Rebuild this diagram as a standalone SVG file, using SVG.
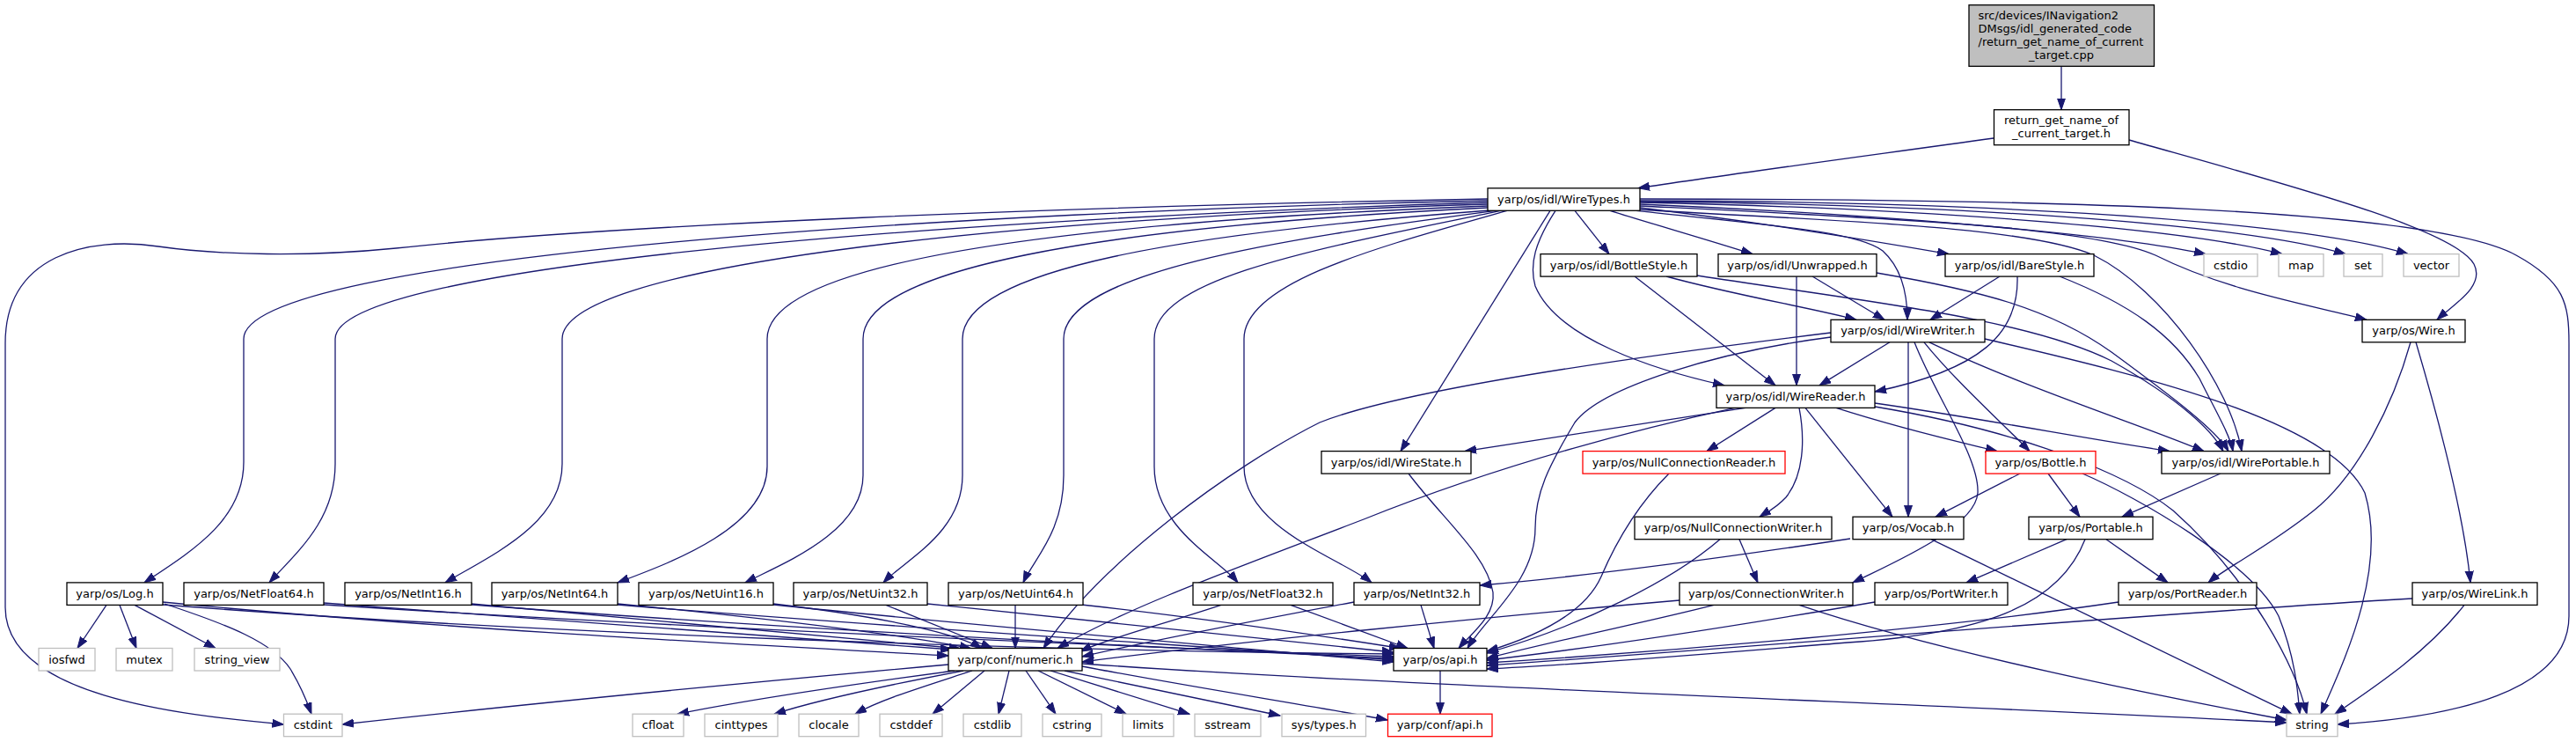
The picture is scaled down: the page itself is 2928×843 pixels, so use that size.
<svg xmlns="http://www.w3.org/2000/svg" width="2928" height="843" viewBox="0 0 2928 843">
<defs>
<marker id="a" markerWidth="14" markerHeight="11" refX="13" refY="5" orient="auto" markerUnits="userSpaceOnUse"><path d="M0,0.5 L13,5 L0,9.5 z" fill="#191970" stroke="#191970" stroke-width="1"/></marker>
<style>
.n rect{fill:#fff;stroke:#000;stroke-width:1.3}
.g rect{stroke:#bfbfbf}
.r rect{stroke:#f00}
.root rect{fill:#bfbfbf}
text{font-family:"DejaVu Sans",sans-serif;font-size:13px;text-anchor:middle;fill:#000}
text.s{text-anchor:start}
#edges path{fill:none;stroke:#191970;stroke-width:1.3;marker-end:url(#a)}
</style>
</defs>
<rect width="2928" height="843" fill="#fff"/>
<g id="edges">
<path d="M2343,75.3 L2343,124.7"/>
<path d="M2266,157 C2100,180 1950,200 1862,213.8"/>
<path d="M2420,159 C2600,210 2790,260 2812,300 C2825,325 2790,345 2770,363.3"/>
<path d="M1691,226 C1200,235 700,255 450,282 C350,292 250,290 180,280 C100,268 6,290 6,390 L6,690 C6,790 200,812 322.5,823"/>
<path d="M1691,228 C1100,240 277,290 277,385 L277,525 C277,590 220,625 164,661.9"/>
<path d="M1691,230 C1100,248 381,300 381,385 L381,527 C381,590 340,625 306,661.9"/>
<path d="M1691,232 C1100,250 639,305 639,385 L639,527 C639,595 560,630 506,661.9"/>
<path d="M1691,234 C1150,255 872,305 872,385 L872,530 C872,600 760,640 702,661.9"/>
<path d="M1691,236 C1250,258 981,305 981,385 L981,540 C981,605 890,640 847,661.9"/>
<path d="M1693,239 C1350,265 1094,305 1094,385 L1094,540 C1094,605 1030,635 1004,661.9"/>
<path d="M1700,239.3 C1450,272 1209,310 1209,385 L1209,540 C1209,605 1175,635 1163,661.9"/>
<path d="M1706,239.3 C1500,282 1312,315 1312,385 L1312,530 C1312,600 1385,635 1407,661.9"/>
<path d="M1713,239.3 C1570,280 1414,320 1414,385 L1414,530 C1414,600 1525,635 1559,661.9"/>
<path d="M1762,239.3 L1592,512.6"/>
<path d="M1768,239.3 C1745,275 1738,300 1745,325 C1770,385 1880,420 1960,437.9"/>
<path d="M1790,239.3 L1829,288.6"/>
<path d="M1830,239.3 C1880,255 1940,272 1992,288.6"/>
<path d="M1864,236 C1980,250 2120,272 2215,288.6"/>
<path d="M1860,239.3 C2000,255 2110,262 2140,285 C2162,305 2168,335 2168,363.3"/>
<path d="M1864,238 C2050,250 2300,255 2380,290 C2460,330 2535,440 2548,512.6"/>
<path d="M1864,232 C2100,242 2380,262 2507,288.6"/>
<path d="M1864,230 C2150,236 2470,256 2594,288.6"/>
<path d="M1864,229 C2200,232 2540,252 2666,288.6"/>
<path d="M1864,228 C2250,229 2610,250 2737,288.6"/>
<path d="M1864,234 C2150,248 2380,258 2450,290 C2530,330 2620,345 2690,363.3"/>
<path d="M1864,226 C2300,226 2760,235 2860,290 C2915,320 2920,345 2920,390 L2920,700 C2920,785 2790,815 2657,823"/>
<path d="M1858,314 L2018,437.9"/>
<path d="M1894,314 C1970,335 2060,350 2110,363.3"/>
<path d="M1929,313 C2100,340 2300,360 2400,410 C2480,455 2515,490 2527,512.6"/>
<path d="M2042,314 L2042,437.9"/>
<path d="M2060,314 L2142,363.3"/>
<path d="M2133,310 C2250,330 2330,350 2400,400 C2475,455 2520,490 2533,512.6"/>
<path d="M2273,314 L2194,363.3"/>
<path d="M2293,314 C2295,380 2250,420 2131,445"/>
<path d="M2341,314 C2420,345 2470,380 2500,430 C2520,470 2535,495 2538,512.6"/>
<path d="M2148,388.8 L2068,437.9"/>
<path d="M2169,388.8 L2169,587.2"/>
<path d="M2187,388.8 C2220,430 2275,480 2307,512.6"/>
<path d="M2193,388.8 C2300,440 2440,485 2505,512.6"/>
<path d="M2176,388.8 C2200,450 2250,520 2248,560 C2245,600 2150,640 2106,661.9"/>
<path d="M2081,378 C1900,400 1600,440 1500,480 C1400,530 1250,640 1186,736.5"/>
<path d="M2081,383 C1950,400 1820,440 1790,480 C1760,530 1745,560 1745,600 C1745,660 1690,700 1668,736.5"/>
<path d="M2256,385 C2450,430 2650,480 2688,560 C2715,650 2660,760 2638,811.2"/>
<path d="M1984,463.4 L1665,512.6"/>
<path d="M2018,463.4 L1940,512.6"/>
<path d="M2045,463.4 C2052,500 2050,540 2030,565 C2018,578 2008,582 2000,587.2"/>
<path d="M2052,463.4 L2151,587.2"/>
<path d="M2087,463.4 C2170,490 2240,505 2270,512.6"/>
<path d="M2131,458 C2250,475 2380,500 2466,512.6"/>
<path d="M1972,463.4 C1850,490 1700,530 1550,590 C1420,640 1280,690 1202,736.5"/>
<path d="M2131,462 C2300,490 2420,540 2470,580 C2560,660 2610,760 2622,811.2"/>
<path d="M1601,538 C1640,590 1690,630 1697,673 C1700,700 1672,720 1658,736.5"/>
<path d="M1897,538 C1860,575 1835,620 1820,655 C1800,700 1740,725 1690,740"/>
<path d="M1977,612.7 L1998,661.9"/>
<path d="M1955,612.7 C1900,660 1800,710 1690,742"/>
<path d="M2103,612 C1950,635 1800,655 1682,665"/>
<path d="M2195,612.7 L2605,811.2"/>
<path d="M2296,538 L2200,587.2"/>
<path d="M2328,538 L2364,587.2"/>
<path d="M2367,538 C2430,565 2560,640 2590,700 C2610,750 2612,790 2614,811.2"/>
<path d="M2524,538 L2412,587.2"/>
<path d="M2349,612.7 L2235,661.9"/>
<path d="M2394,612.7 L2464,661.9"/>
<path d="M2370,612.7 C2340,690 2250,720 2100,730 C1950,742 1800,755 1690,760"/>
<path d="M2740,388.8 C2720,460 2680,540 2630,580 C2580,620 2530,645 2510,661.9"/>
<path d="M2746,388.8 C2770,470 2800,580 2808,661.9"/>
<path d="M1909,682 C1700,700 1400,730 1230,752"/>
<path d="M1948,687.4 C1880,705 1780,725 1690,748"/>
<path d="M2045,687.4 C2200,740 2450,790 2599,818"/>
<path d="M2131,684 C1980,710 1820,735 1690,750"/>
<path d="M2408,684 C2200,715 1900,740 1690,753"/>
<path d="M2742,680 C2400,700 2000,735 1690,756"/>
<path d="M2801,687.4 C2760,740 2700,780 2654,811.2"/>
<path d="M121,687.4 L88,736.5"/>
<path d="M136,687.4 L155,736.5"/>
<path d="M153,687.4 L245,736.5"/>
<path d="M187,686 C260,710 310,730 330,760 C345,785 350,800 354,811.2"/>
<path d="M185,684 C500,715 900,735 1078,745"/>
<path d="M185,687 C600,720 1200,740 1584,743"/>
<path d="M368,685 C700,710 950,728 1082,738"/>
<path d="M368,687 C800,715 1300,735 1584,746"/>
<path d="M536,686 C800,710 1000,728 1092,737"/>
<path d="M536,687 C900,715 1300,735 1584,748"/>
<path d="M702,686 C900,705 1050,725 1104,737"/>
<path d="M702,687 C1000,712 1350,733 1584,750"/>
<path d="M879,686 C1000,700 1090,720 1116,737"/>
<path d="M879,687 C1100,710 1400,735 1584,752"/>
<path d="M1007,687.4 L1128,736.5"/>
<path d="M1054,686 C1250,705 1450,728 1584,741"/>
<path d="M1154,687.4 L1154,736.5"/>
<path d="M1229,687 C1350,700 1500,722 1592,736.5"/>
<path d="M1388,687.4 C1320,710 1260,725 1228,740"/>
<path d="M1467,687.4 L1600,736.5"/>
<path d="M1539,684 C1400,710 1300,730 1230,746"/>
<path d="M1615,687.4 L1630,736.5"/>
<path d="M1078,755 C800,780 550,805 389,823"/>
<path d="M1085,762 C950,780 850,795 770,811.2"/>
<path d="M1095,762 C1000,780 930,795 880,811.2"/>
<path d="M1105,762 C1050,780 1000,795 972,811.2"/>
<path d="M1119,762 L1060,811.2"/>
<path d="M1147,762 L1135,811.2"/>
<path d="M1166,762 L1200,811.2"/>
<path d="M1180,762 L1280,811.2"/>
<path d="M1194,762 L1352,811.2"/>
<path d="M1210,762 L1455,813"/>
<path d="M1230,757 C1350,780 1480,800 1577,818"/>
<path d="M1230,754 C1600,780 2200,800 2599,821"/>
<path d="M1637,762 L1637,811.2"/>
</g>
<g id="n_root" class="n root"><rect x="2238" y="5.7" width="210.5" height="69.6"/><text class="s" x="2248.5" y="22.3">src/devices/INavigation2</text><text class="s" x="2248.5" y="37.1">DMsgs/idl_generated_code</text><text class="s" x="2248.5" y="51.9">/return_get_name_of_current</text><text x="2343" y="66.7">_target.cpp</text></g>
<g id="n_return" class="n"><rect x="2266.5" y="124.7" width="153.5" height="40"/><text x="2343" y="141.3">return_get_name_of</text><text x="2343" y="156.1">_current_target.h</text></g>
<g id="n_WireTypes" class="n"><rect x="1691" y="213.8" width="173" height="25.5"/><text x="1777.5" y="230.8">yarp/os/idl/WireTypes.h</text></g>
<g id="n_BottleStyle" class="n"><rect x="1751" y="288.6" width="178" height="25.5"/><text x="1840" y="305.6">yarp/os/idl/BottleStyle.h</text></g>
<g id="n_Unwrapped" class="n"><rect x="1953" y="288.6" width="180" height="25.5"/><text x="2043" y="305.6">yarp/os/idl/Unwrapped.h</text></g>
<g id="n_BareStyle" class="n"><rect x="2211" y="288.6" width="169" height="25.5"/><text x="2295.5" y="305.6">yarp/os/idl/BareStyle.h</text></g>
<g id="n_cstdio" class="n g"><rect x="2505" y="288.6" width="61" height="25.5"/><text x="2535.5" y="305.6">cstdio</text></g>
<g id="n_map" class="n g"><rect x="2590" y="288.6" width="51" height="25.5"/><text x="2615.5" y="305.6">map</text></g>
<g id="n_set" class="n g"><rect x="2664" y="288.6" width="44" height="25.5"/><text x="2686" y="305.6">set</text></g>
<g id="n_vector" class="n g"><rect x="2732" y="288.6" width="63" height="25.5"/><text x="2763.5" y="305.6">vector</text></g>
<g id="n_WireWriter" class="n"><rect x="2081" y="363.3" width="175" height="25.5"/><text x="2168.5" y="380.3">yarp/os/idl/WireWriter.h</text></g>
<g id="n_Wire" class="n"><rect x="2685" y="363.3" width="117" height="25.5"/><text x="2743.5" y="380.3">yarp/os/Wire.h</text></g>
<g id="n_WireReader" class="n"><rect x="1951" y="437.9" width="180" height="25.5"/><text x="2041" y="454.9">yarp/os/idl/WireReader.h</text></g>
<g id="n_WireState" class="n"><rect x="1502" y="512.6" width="170" height="25.5"/><text x="1587" y="529.6">yarp/os/idl/WireState.h</text></g>
<g id="n_NullConnectionReader" class="n r"><rect x="1799" y="512.6" width="230" height="25.5"/><text x="1914" y="529.6">yarp/os/NullConnectionReader.h</text></g>
<g id="n_Bottle" class="n r"><rect x="2257" y="512.6" width="125" height="25.5"/><text x="2319.5" y="529.6">yarp/os/Bottle.h</text></g>
<g id="n_WirePortable" class="n"><rect x="2457" y="512.6" width="191" height="25.5"/><text x="2552.5" y="529.6">yarp/os/idl/WirePortable.h</text></g>
<g id="n_NullConnectionWriter" class="n"><rect x="1858" y="587.2" width="224" height="25.5"/><text x="1970" y="604.2">yarp/os/NullConnectionWriter.h</text></g>
<g id="n_Vocab" class="n"><rect x="2106" y="587.2" width="126" height="25.5"/><text x="2169" y="604.2">yarp/os/Vocab.h</text></g>
<g id="n_Portable" class="n"><rect x="2306" y="587.2" width="141" height="25.5"/><text x="2376.5" y="604.2">yarp/os/Portable.h</text></g>
<g id="n_Log" class="n"><rect x="76" y="661.9" width="109" height="25.5"/><text x="130.5" y="678.9">yarp/os/Log.h</text></g>
<g id="n_NetFloat64" class="n"><rect x="209" y="661.9" width="159" height="25.5"/><text x="288.5" y="678.9">yarp/os/NetFloat64.h</text></g>
<g id="n_NetInt16" class="n"><rect x="392" y="661.9" width="144" height="25.5"/><text x="464" y="678.9">yarp/os/NetInt16.h</text></g>
<g id="n_NetInt64" class="n"><rect x="559" y="661.9" width="143" height="25.5"/><text x="630.5" y="678.9">yarp/os/NetInt64.h</text></g>
<g id="n_NetUint16" class="n"><rect x="726" y="661.9" width="153" height="25.5"/><text x="802.5" y="678.9">yarp/os/NetUint16.h</text></g>
<g id="n_NetUint32" class="n"><rect x="902" y="661.9" width="152" height="25.5"/><text x="978" y="678.9">yarp/os/NetUint32.h</text></g>
<g id="n_NetUint64" class="n"><rect x="1078" y="661.9" width="153" height="25.5"/><text x="1154.5" y="678.9">yarp/os/NetUint64.h</text></g>
<g id="n_NetFloat32" class="n"><rect x="1356" y="661.9" width="159" height="25.5"/><text x="1435.5" y="678.9">yarp/os/NetFloat32.h</text></g>
<g id="n_NetInt32" class="n"><rect x="1539" y="661.9" width="143" height="25.5"/><text x="1610.5" y="678.9">yarp/os/NetInt32.h</text></g>
<g id="n_ConnectionWriter" class="n"><rect x="1909" y="661.9" width="197" height="25.5"/><text x="2007.5" y="678.9">yarp/os/ConnectionWriter.h</text></g>
<g id="n_PortWriter" class="n"><rect x="2131" y="661.9" width="151" height="25.5"/><text x="2206.5" y="678.9">yarp/os/PortWriter.h</text></g>
<g id="n_PortReader" class="n"><rect x="2408" y="661.9" width="157" height="25.5"/><text x="2486.5" y="678.9">yarp/os/PortReader.h</text></g>
<g id="n_WireLink" class="n"><rect x="2742" y="661.9" width="142" height="25.5"/><text x="2813" y="678.9">yarp/os/WireLink.h</text></g>
<g id="n_iosfwd" class="n g"><rect x="44" y="736.5" width="64" height="25.5"/><text x="76" y="753.5">iosfwd</text></g>
<g id="n_mutex" class="n g"><rect x="132" y="736.5" width="64" height="25.5"/><text x="164" y="753.5">mutex</text></g>
<g id="n_string_view" class="n g"><rect x="221" y="736.5" width="97" height="25.5"/><text x="269.5" y="753.5">string_view</text></g>
<g id="n_numeric" class="n"><rect x="1078" y="736.5" width="152" height="25.5"/><text x="1154" y="753.5">yarp/conf/numeric.h</text></g>
<g id="n_os_api" class="n"><rect x="1584" y="736.5" width="106" height="25.5"/><text x="1637" y="753.5">yarp/os/api.h</text></g>
<g id="n_cstdint" class="n g"><rect x="322.5" y="811.2" width="66.5" height="25.5"/><text x="355.75" y="828.2">cstdint</text></g>
<g id="n_cfloat" class="n g"><rect x="719" y="811.2" width="58" height="25.5"/><text x="748" y="828.2">cfloat</text></g>
<g id="n_cinttypes" class="n g"><rect x="801" y="811.2" width="83" height="25.5"/><text x="842.5" y="828.2">cinttypes</text></g>
<g id="n_clocale" class="n g"><rect x="908" y="811.2" width="68" height="25.5"/><text x="942" y="828.2">clocale</text></g>
<g id="n_cstddef" class="n g"><rect x="1000" y="811.2" width="71" height="25.5"/><text x="1035.5" y="828.2">cstddef</text></g>
<g id="n_cstdlib" class="n g"><rect x="1095" y="811.2" width="66" height="25.5"/><text x="1128" y="828.2">cstdlib</text></g>
<g id="n_cstring" class="n g"><rect x="1185" y="811.2" width="67" height="25.5"/><text x="1218.5" y="828.2">cstring</text></g>
<g id="n_limits" class="n g"><rect x="1276" y="811.2" width="58" height="25.5"/><text x="1305" y="828.2">limits</text></g>
<g id="n_sstream" class="n g"><rect x="1358" y="811.2" width="75" height="25.5"/><text x="1395.5" y="828.2">sstream</text></g>
<g id="n_sys_types" class="n g"><rect x="1457" y="811.2" width="95.5" height="25.5"/><text x="1504.75" y="828.2">sys/types.h</text></g>
<g id="n_conf_api" class="n r"><rect x="1577.5" y="811.2" width="118.5" height="25.5"/><text x="1636.75" y="828.2">yarp/conf/api.h</text></g>
<g id="n_string" class="n g"><rect x="2599" y="811.2" width="58" height="25.5"/><text x="2628" y="828.2">string</text></g>
</svg>
